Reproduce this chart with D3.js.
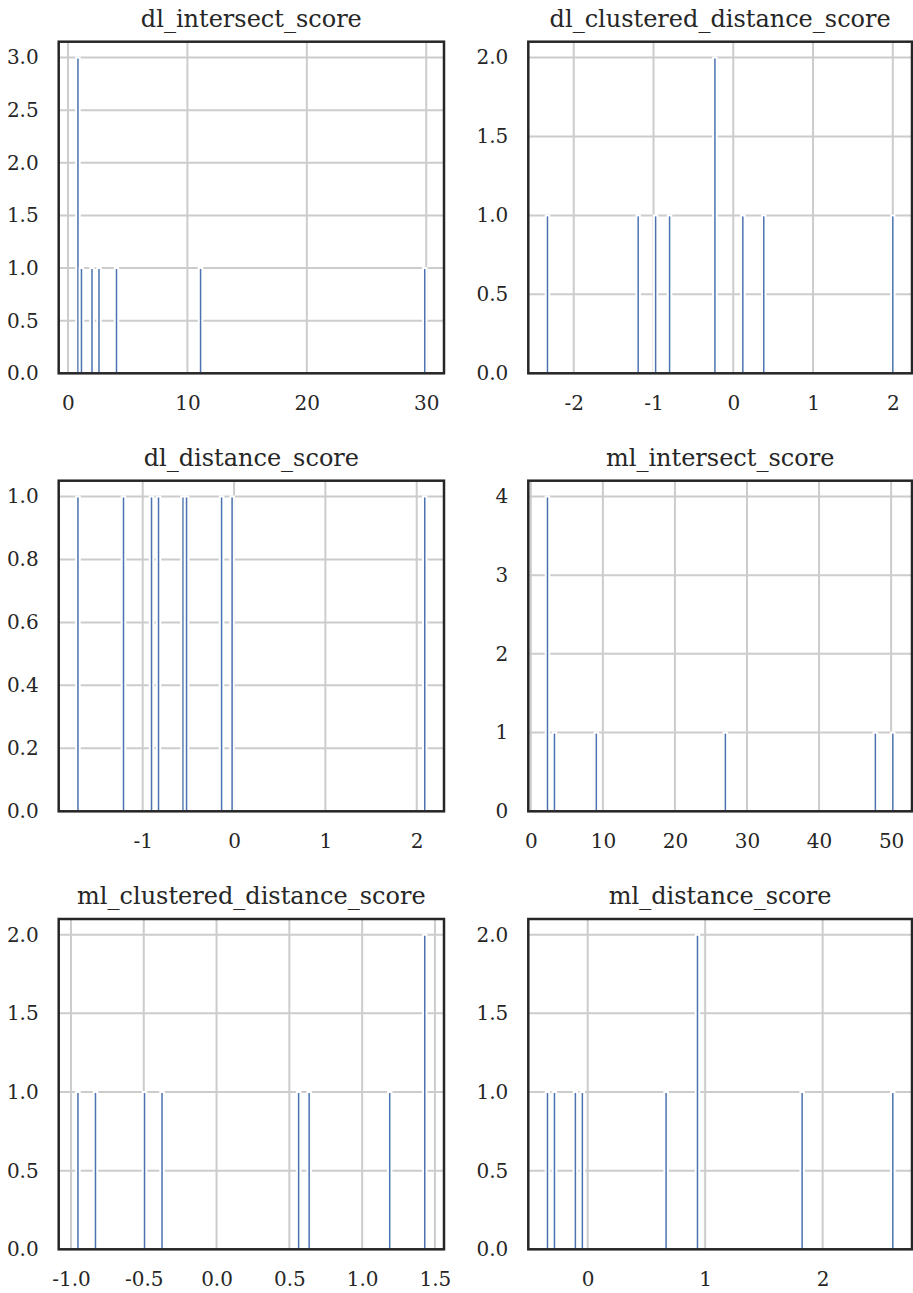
<!DOCTYPE html>
<html>
<head>
<meta charset="utf-8">
<script src="https://cdn.jsdelivr.net/npm/d3@7"></script>
<style>
  html, body { margin: 0; padding: 0; background: #ffffff; }
  svg { display: block; }
</style>
</head>
<body>
<svg id="chart" width="913" height="1293"></svg>
<script>
// ---- data (raw observations, 9 rows per column) ----
const titles = ["dl_intersect_score", "dl_clustered_distance_score", "dl_distance_score",
                "ml_intersect_score", "ml_clustered_distance_score", "ml_distance_score"];

const dl_intersect_score = [0.69, 0.69, 0.69, 1.148, 2.045, 2.63, 4.08, 11.12, 30.02];
const dl_clustered_distance_score = [-2.351, -1.191, -0.979, -0.799, -0.233, -0.233, 0.1175, 0.384, 2.022];
const dl_distance_score = [-1.728, -1.211, -0.904, -0.827, -0.561, -0.520, -0.136, -0.023, 2.107];
const ml_intersect_score = [2.07, 2.07, 2.07, 2.07, 3.28, 9.1, 27.0, 47.88, 50.48];
const ml_clustered_distance_score = [-0.964, -0.833, -0.496, -0.374, 0.563, 0.636, 1.189, 1.430, 1.442];
const ml_distance_score = [-0.357, -0.283, -0.107, -0.048, 0.669, 0.935, 0.935, 1.827, 2.612];

const seriesValues = [dl_intersect_score, dl_clustered_distance_score, dl_distance_score,
                      ml_intersect_score, ml_clustered_distance_score, ml_distance_score];

const xTickValues = [[0, 10, 20, 30], [-2, -1, 0, 1, 2], [-1, 0, 1, 2],
                     [0, 10, 20, 30, 40, 50], [-1.0, -0.5, 0.0, 0.5, 1.0, 1.5], [0, 1, 2]];
const xTickLabels = [["0", "10", "20", "30"], ["-2", "-1", "0", "1", "2"], ["-1", "0", "1", "2"],
                     ["0", "10", "20", "30", "40", "50"], ["-1.0", "-0.5", "0.0", "0.5", "1.0", "1.5"], ["0", "1", "2"]];
const yTickValues = [[0, 0.5, 1, 1.5, 2, 2.5, 3], [0, 0.5, 1, 1.5, 2], [0, 0.2, 0.4, 0.6, 0.8, 1.0],
                     [0, 1, 2, 3, 4], [0, 0.5, 1, 1.5, 2], [0, 0.5, 1, 1.5, 2]];
const yTickLabels = [["0.0", "0.5", "1.0", "1.5", "2.0", "2.5", "3.0"], ["0.0", "0.5", "1.0", "1.5", "2.0"],
                     ["0.0", "0.2", "0.4", "0.6", "0.8", "1.0"], ["0", "1", "2", "3", "4"],
                     ["0.0", "0.5", "1.0", "1.5", "2.0"], ["0.0", "0.5", "1.0", "1.5", "2.0"]];
const nBins = 100;

// ---- layout ----
const colX = [[58.7, 444], [528.3, 912]];
const rowY = [[41.7, 373.3], [480.7, 811.3], [919, 1249.3]];
const textColor = "#262626";
const font = "'DejaVu Serif', 'Liberation Serif', serif";

const svg = d3.select("#chart");

seriesValues.forEach((vals, i) => {
  const col = i % 2, row = Math.floor(i / 2);
  const [x0, x1] = colX[col];
  const [y0, y1] = rowY[row];

  const mn = d3.min(vals), mx = d3.max(vals);
  const span = mx - mn;
  const w = span / nBins;
  const counts = new Array(nBins).fill(0);
  vals.forEach(v => {
    let k = Math.floor((v - mn) / w);
    if (k >= nBins) k = nBins - 1;
    if (k < 0) k = 0;
    counts[k] += 1;
  });
  const bins = counts.map((c, k) => ({ x0: mn + k * w, x1: mn + (k + 1) * w, c }))
                     .filter(b => b.c > 0);
  const maxC = d3.max(counts);

  const x = d3.scaleLinear().domain([mn - 0.05 * span, mx + 0.05 * span]).range([x0, x1]);
  const y = d3.scaleLinear().domain([0, maxC * 1.05]).range([y1, y0]);

  const g = svg.append("g");

  // grid
  g.append("g").selectAll("line.gy").data(yTickValues[i]).join("line")
    .attr("x1", x0).attr("x2", x1)
    .attr("y1", d => y(d)).attr("y2", d => y(d))
    .attr("stroke", "#cccccc").attr("stroke-width", 2);
  g.append("g").selectAll("line.gx").data(xTickValues[i]).join("line")
    .attr("y1", y0).attr("y2", y1)
    .attr("x1", d => x(d)).attr("x2", d => x(d))
    .attr("stroke", "#cccccc").attr("stroke-width", 2);

  // bars
  g.append("g").selectAll("rect").data(bins).join("rect")
    .attr("x", b => x(b.x0))
    .attr("width", b => x(b.x1) - x(b.x0))
    .attr("y", b => y(b.c))
    .attr("height", b => y(0) - y(b.c))
    .attr("fill", "#4c72b0")
    .attr("stroke", "#ffffff")
    .attr("stroke-width", 2);

  // frame
  g.append("rect")
    .attr("x", x0).attr("y", y0)
    .attr("width", x1 - x0).attr("height", y1 - y0)
    .attr("fill", "none").attr("stroke", textColor).attr("stroke-width", 2.5);

  // axes (labels only)
  const xAxis = d3.axisBottom(x).tickValues(xTickValues[i])
    .tickFormat((d, k) => xTickLabels[i][k]).tickSize(0).tickPadding(22.5);
  const xg = g.append("g").attr("transform", `translate(0,${y1})`).call(xAxis);
  xg.select(".domain").remove();
  xg.selectAll("text").attr("fill", textColor).style("font-family", font).style("font-size", "20px");

  const yAxis = d3.axisLeft(y).tickValues(yTickValues[i])
    .tickFormat((d, k) => yTickLabels[i][k]).tickSize(0).tickPadding(20);
  const yg = g.append("g").attr("transform", `translate(${x0},0)`).call(yAxis);
  yg.select(".domain").remove();
  yg.selectAll("text").attr("fill", textColor).style("font-family", font).style("font-size", "20px");

  // title
  g.append("text")
    .attr("x", (x0 + x1) / 2).attr("y", y0 - 15)
    .attr("text-anchor", "middle")
    .attr("fill", textColor)
    .style("font-family", font).style("font-size", "24px")
    .text(titles[i]);
});
</script>
</body>
</html>
